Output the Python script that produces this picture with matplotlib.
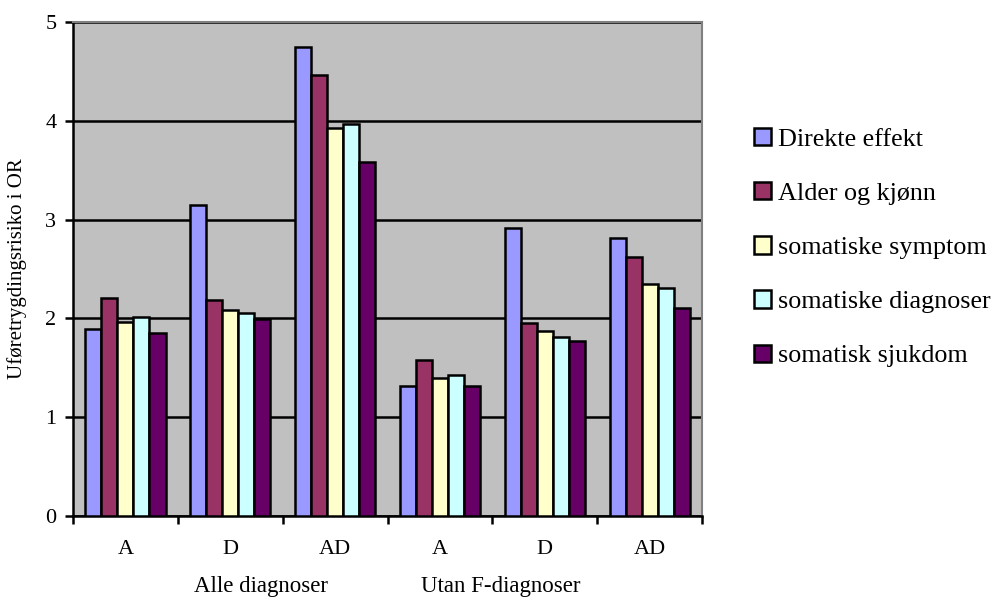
import numpy as np
import matplotlib
matplotlib.use("Agg")
import matplotlib.pyplot as plt

# data
categories = ["A", "D", "AD", "A", "D", "AD"]
groups = ["Alle diagnoser", "Utan F-diagnoser"]
series = ["Direkte effekt", "Alder og kjønn", "somatiske symptom",
          "somatiske diagnoser", "somatisk sjukdom"]
direkte = [1.89, 3.15, 4.75, 1.32, 2.92, 2.81]
alder = [2.21, 2.19, 4.46, 1.58, 1.95, 2.62]
symptom = [1.96, 2.09, 3.93, 1.40, 1.87, 2.35]
diagnoser = [2.02, 2.06, 3.97, 1.43, 1.81, 2.31]
sjukdom = [1.85, 1.99, 3.58, 1.32, 1.77, 2.11]
colors = ["#9999FF", "#993366", "#FFFFCC", "#CCFFFF", "#660066"]

plt.rcParams["font.family"] = ["Liberation Serif", "DejaVu Serif"]

fig = plt.figure(figsize=(9.97, 5.98), dpi=100)
ax = fig.add_axes([0.0732, 0.137, 0.631, 0.826])
ax.set_facecolor("#C0C0C0")

x = np.arange(len(categories))
w = 0.153
values = [direkte, alder, symptom, diagnoser, sjukdom]
for i, (name, vals, c) in enumerate(zip(series, values, colors)):
    ax.bar(x + (i - 2) * w, vals, width=w, color=c, edgecolor="black",
           linewidth=1.8, label=name, zorder=3)

ax.set_xlim(-0.5, 5.5)
ax.set_ylim(0, 5)
ax.set_yticks(range(6))
ax.yaxis.grid(True, color="black", linewidth=1.8, zorder=1)
ax.set_axisbelow(True)

# category labels between boundary ticks
ax.set_xticks(np.arange(-0.5, 6, 1))
ax.set_xticklabels([])
ax.set_xticks(x, minor=True)
ax.set_xticklabels(categories, minor=True)
ax.tick_params(axis="x", which="minor", length=0, pad=17, labelsize=16)
ax.tick_params(axis="x", which="major", length=6, width=1.8, direction="out")
ax.tick_params(axis="y", length=6, width=1.8, direction="out", labelsize=16, pad=6)

for s in ["left", "bottom"]:
    ax.spines[s].set_linewidth(1.8)
    ax.spines[s].set_color("black")
for s in ["top", "right"]:
    ax.spines[s].set_color("#808080")
    ax.spines[s].set_linewidth(1.5)

ax.set_ylabel("Uføretrygdingsrisiko i OR", fontsize=15, labelpad=13)

# second level group labels
ax.text(1.29, -0.143, groups[0], transform=ax.get_xaxis_transform(),
        ha="center", va="center", fontsize=16.5)
ax.text(3.58, -0.143, groups[1], transform=ax.get_xaxis_transform(),
        ha="center", va="center", fontsize=16.5)

fig.legend(loc="upper left", bbox_to_anchor=(0.746, 0.804), frameon=False,
           fontsize=18.8, handlelength=0.65, handleheight=0.65,
           handletextpad=0.25, labelspacing=1.2, borderaxespad=0)

fig.savefig("out.png", dpi=100)
